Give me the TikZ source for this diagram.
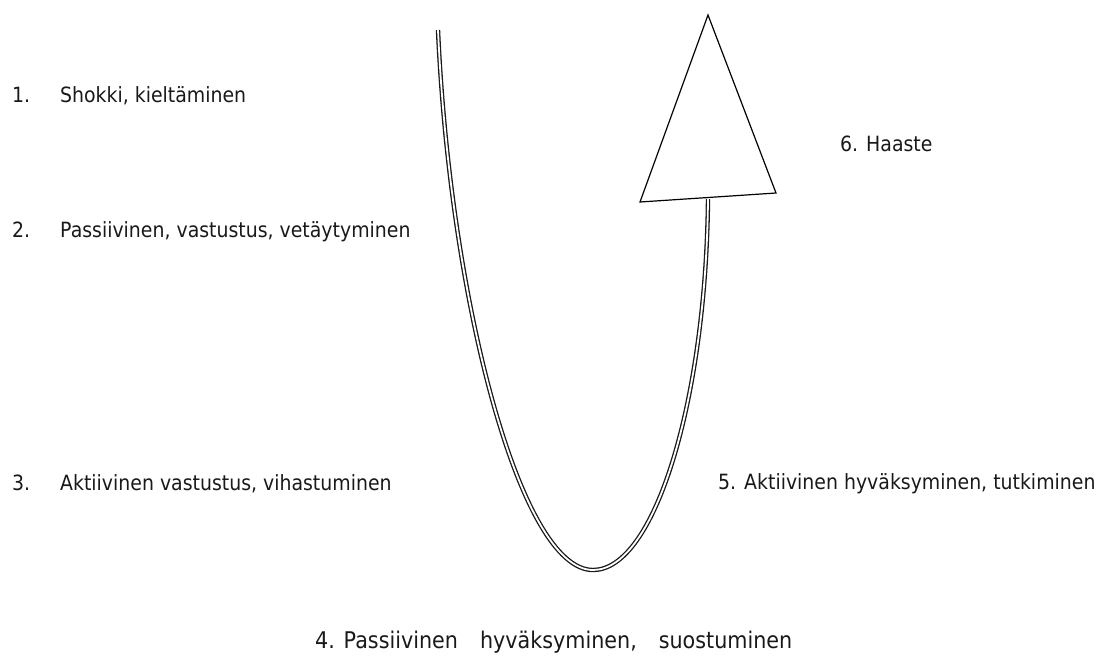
\documentclass[tikz,border=0pt]{standalone}
\usepackage{fontspec}
\setmainfont{DejaVu Sans}[FakeStretch=0.9]
\usetikzlibrary{positioning}
\tikzset{
  stage/.style={anchor=base west,inner sep=0pt,font=\fontsize{21}{24}\selectfont,text=black!90},
  curveline/.style={double,double distance=1.8pt,line width=1.3pt,draw=black!90},
  arrowhead/.style={draw,line width=1.2pt,fill=white,line join=miter}
}
\newcommand{\stagenr}[1]{\makebox[48pt][l]{#1}}

\begin{document}
\begin{tikzpicture}[x=1pt,y=-1pt]
  \useasboundingbox (0,0) rectangle (1101,657);
  % vaiheet
  \node[stage] (shock) at (12,102) {\stagenr{1.}Shokki, kieltäminen};
  \node[stage] (passive) at (12,237) {\stagenr{2.}Passiivinen, vastustus, vetäytyminen};
  \node[stage] (active) at (12,490) {\stagenr{3.}Aktiivinen vastustus, vihastuminen};
  \node[stage,font=\fontsize{23}{26}\selectfont] (accept) at (315,648)
    {4. Passiivinen\hspace*{22pt}hyväksyminen,\hspace*{22pt}suostuminen};
  \node[stage] (explore) at (718,489) {5. Aktiivinen hyväksyminen, tutkiminen};
  \node[stage] (challenge) at (840,151) {6. Haaste};
  % käyrä
  \coordinate (start) at (438,30);
  \coordinate (bottom) at (593,570);
  \coordinate (tail) at (708,199);
  \draw[curveline] (start) .. controls (450,300) and (520,570) .. (bottom)
    .. controls (655,570) and (706,400) .. (tail);
  % nuolenkärki
  \coordinate (baseL) at (640,202);
  \coordinate (baseR) at (776,193);
  \coordinate (tip) at (708,15);
  \draw[arrowhead] (baseL) -- (baseR) -- (tip) -- cycle;
\end{tikzpicture}
\end{document}
